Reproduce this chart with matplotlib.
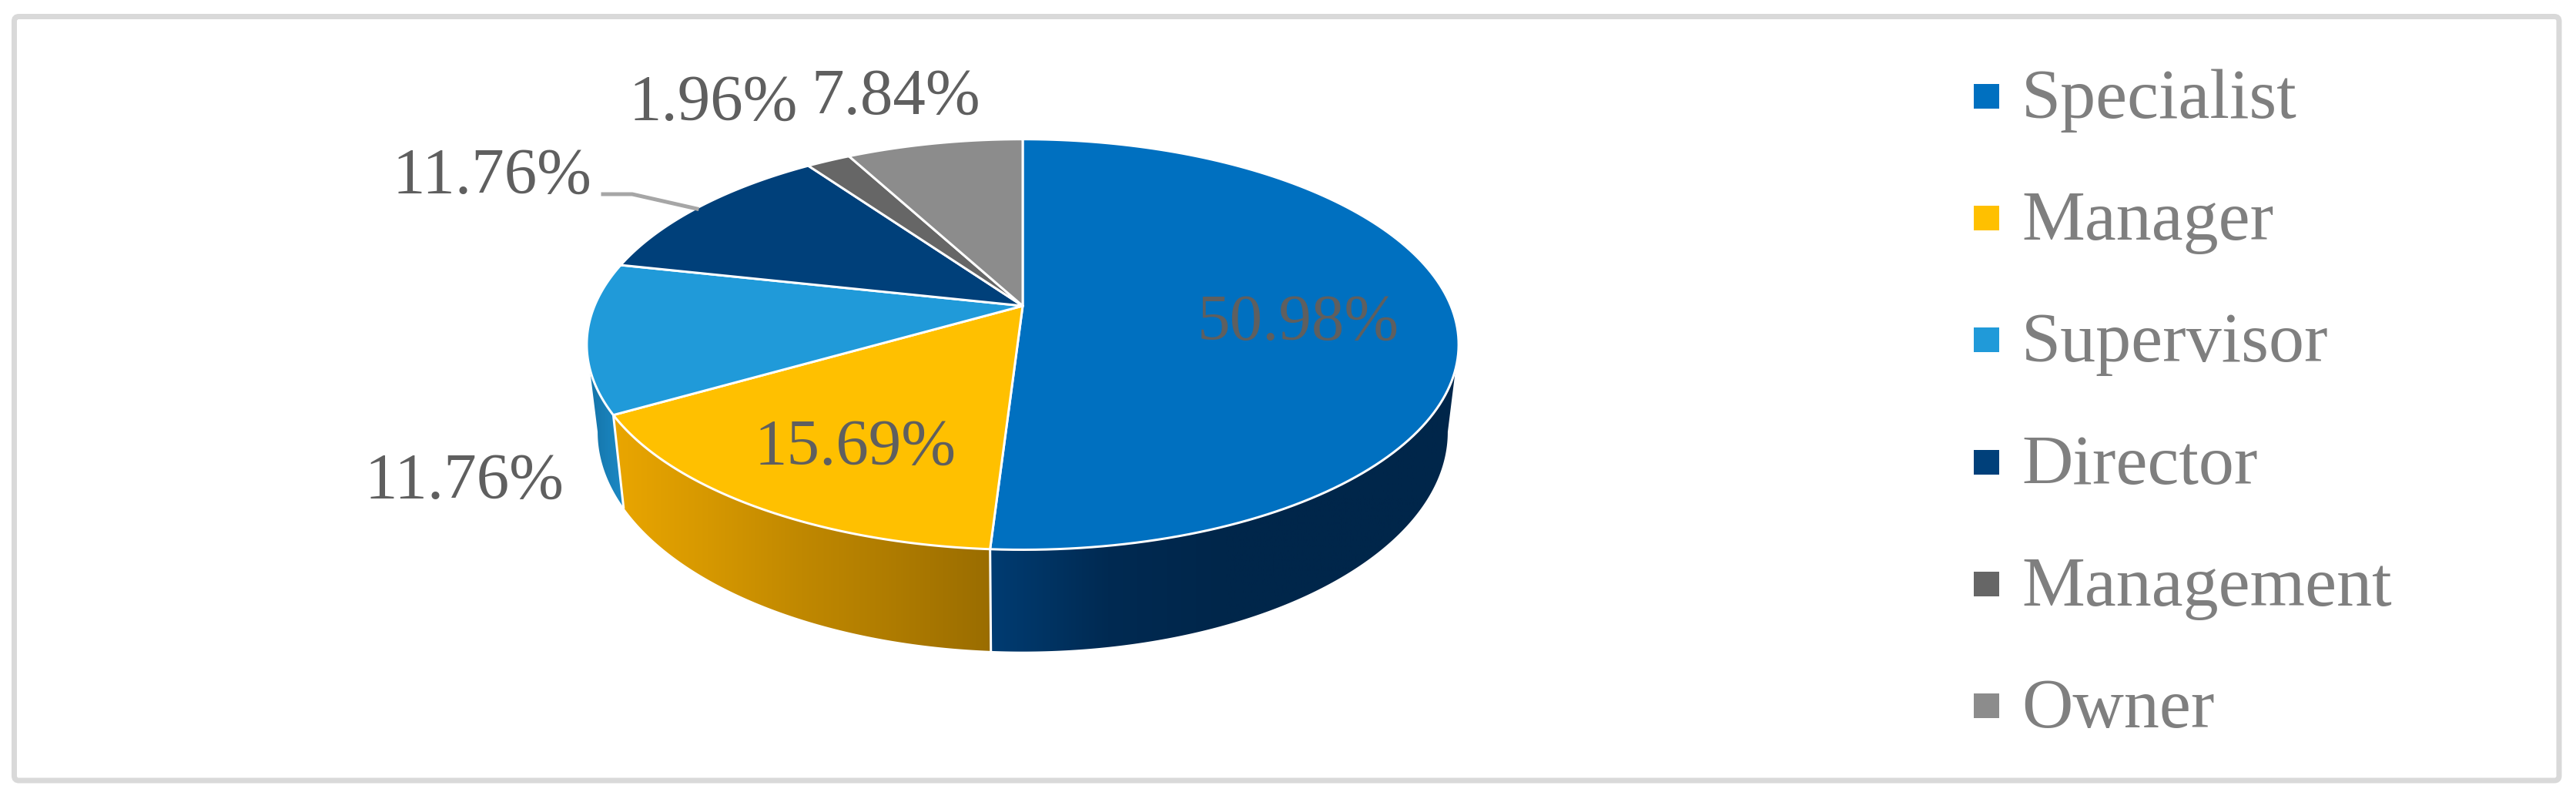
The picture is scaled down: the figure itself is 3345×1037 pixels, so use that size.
import numpy as np
import matplotlib
matplotlib.use('Agg')
import matplotlib.pyplot as plt
from matplotlib.colors import LinearSegmentedColormap
from matplotlib.patches import Polygon, Rectangle, FancyBboxPatch

# Data
categories = ['Specialist', 'Manager', 'Supervisor', 'Director', 'Management', 'Owner']
values = [50.98, 15.69, 11.76, 11.76, 1.96, 7.84]
colors = ['#0070C0', '#FFC000', '#209AD9', '#00407A', '#666666', '#8C8C8C']

W, H = 3345, 1037
PX = 72 / 100  # one picture pixel in points at dpi 100

plt.rcParams['font.family'] = ['Liberation Serif', 'DejaVu Serif']

fig = plt.figure(figsize=(W / 100, H / 100), dpi=100)
ax = fig.add_axes([0, 0, 1, 1])

# Perspective of the pie, angles run clockwise from the top
CX, CY = 1328, 397
R, A, K = 556, 257, 0.188
LOW_CY, LOW_A, LOW_S = 507, 275, 0.975


def rim(theta, low=False):
    t = np.radians(theta)
    x, y = np.sin(t), np.cos(t)
    w = 1 + K * y
    if low:
        return CX + LOW_S * R * x / w, LOW_CY - LOW_A * y / w
    return CX + R * x / w, CY - A * y / w


def arc(a, b, low=False):
    return np.column_stack(rim(np.linspace(a, b, 150), low))


# Frame
ax.add_patch(FancyBboxPatch((18.5, 21.5), 3304.5, 991.5, boxstyle='round,pad=0,rounding_size=6',
                            fc='white', ec='#D9D9D9', lw=7 * PX))

edges = np.cumsum([0] + values) / sum(values) * 360

# Side of the pie, only the front part shows
vis_right = 180 - np.degrees(np.arcsin(np.sqrt(1 - K ** 2)))
vis_left = 360 - vis_right
side_stops = [
    ['#003C72', '#002A52', '#00264A', '#00264A', '#00264A'],
    ['#EAA600', '#D69800', '#C08800', '#AE7B00', '#9A6D00'],
    ['#1574A8', '#1678AE', '#187EB6', '#1A84BE', '#1B88C4'],
]
for i in range(3):
    a = max(edges[i], vis_right)
    b = min(edges[i + 1], vis_left)
    pts = np.vstack([arc(a, b), arc(b, a, low=True)])
    poly = Polygon(pts, closed=True, fc='none', ec='none')
    ax.add_patch(poly)
    cmap = LinearSegmentedColormap.from_list('side%d' % i, side_stops[i])
    x0, x1 = pts[:, 0].min(), pts[:, 0].max()
    grad = np.linspace(0, 1, 256).reshape(1, -1)
    im = ax.imshow(grad, cmap=cmap, extent=[x0, x1, pts[:, 1].max(), pts[:, 1].min()],
                   aspect='auto', zorder=2)
    im.set_clip_path(poly)

# White seams on the side
for e in edges[1:3]:
    seam = np.array([rim(e), rim(e, low=True)])
    ax.plot(seam[:, 0], seam[:, 1], color='white', lw=3 * PX, zorder=3)

# Top of the pie
for i in range(len(values)):
    pts = np.vstack([[CX, CY], arc(edges[i], edges[i + 1])])
    ax.add_patch(Polygon(pts, closed=True, fc=colors[i], ec='white', lw=3 * PX,
                         joinstyle='round', zorder=4))

# Data labels
label_xy = [(1686, 420), (1110, 582), (603, 626), (639, 230), (926, 135), (1163, 127)]
for v, (lx, ly) in zip(values, label_xy):
    ax.text(lx, ly, '%.2f%%' % v, color='#5F5F5F', fontsize=85 * PX, ha='center', va='center', zorder=6)

# Leader line of the Director label
ax.plot([783, 821, 905], [252, 252, 271], color='#A6A6A6', lw=5 * PX, zorder=5)

# Legend
for i, name in enumerate(categories):
    yc = 125 + i * 158.2
    ax.add_patch(Rectangle((2563, yc - 16), 33, 32, fc=colors[i], ec='none', zorder=5))
    ax.text(2625, yc + 28, name, color='#7F7F7F', fontsize=92 * PX, ha='left', va='baseline', zorder=6)

ax.set_xlim(0, W)
ax.set_ylim(H, 0)
ax.axis('off')

fig.savefig('out.png', dpi=100, facecolor='white')
